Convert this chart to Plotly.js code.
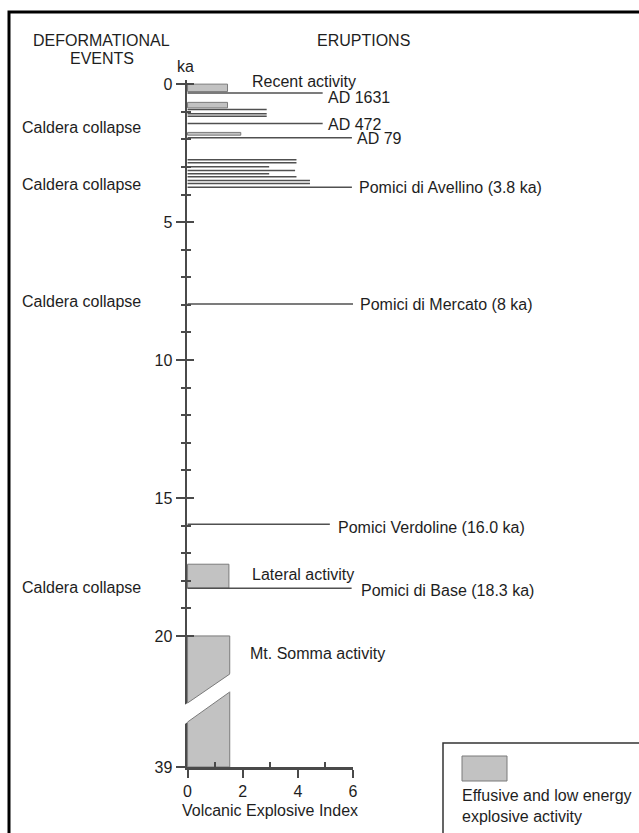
<!DOCTYPE html>
<html>
<head>
<meta charset="utf-8">
<script src="https://cdn.plot.ly/plotly-3.0.1.min.js"></script>
<style>
  html, body { margin: 0; padding: 0; background: #ffffff; }
  #chart { width: 639px; height: 833px; }
</style>
</head>
<body>
<div id="chart"></div>
<script>
// ---------------- DATA ----------------
// Effusive and low energy explosive activity (grey boxes): age span in ka and extent on VEI axis
const effusiveStart = [0, 0.66, 1.75, 17.4, 20];
const effusiveEnd   = [0.27, 0.86, 1.85, 18.27, 39];
const effusiveVEI   = [1.45, 1.45, 1.93, 1.5, 1.53];

// Explosive eruptions (horizontal lines): age in ka and extent along the VEI axis
const eruptionAge   = [0.32, 0.92, 1.07, 1.16, 1.43, 1.94,
                       2.74, 2.85, 2.99, 3.13, 3.25, 3.36, 3.49, 3.60, 3.74,
                       7.97, 15.95, 18.27];
const eruptionReach = [4.9, 2.87, 2.87, 2.87, 4.9, 5.96,
                       3.95, 3.95, 2.96, 3.9, 2.96, 3.95, 4.44, 4.44, 5.96,
                       6.05, 5.16, 5.95];

// Text
const eruptionLabels = ['Recent activity', 'AD 1631', 'AD 472', 'AD 79',
  'Pomici di Avellino (3.8 ka)', 'Pomici di Mercato (8 ka)',
  'Pomici Verdoline (16.0 ka)', 'Lateral activity',
  'Pomici di Base (18.3 ka)', 'Mt. Somma activity'];
const deformationLabels = ['Caldera collapse', 'Caldera collapse', 'Caldera collapse', 'Caldera collapse'];
const yTickKa   = [0, 5, 10, 15, 20, 39];
const yMinorKa  = [1, 2, 3, 4, 6, 7, 8, 9, 11, 12, 13, 14, 16, 17, 18, 19];
const xTickVals = [0, 2, 4, 6];
const xMinorVals = [1, 3, 5];
const xTitle = 'Volcanic Explosive Index';
const legendText = 'Effusive and low energy<br>explosive activity';

// ---------------- SCALE (broken age axis: 20–39 ka compressed) ----------------
const BREAK_AT = 20, COMPRESS = 0.25;
function toU(ka) { return ka <= BREAK_AT ? ka : BREAK_AT + (ka - BREAK_AT) * COMPRESS; }

// ---------------- GEOMETRY / STYLE ----------------
const W = 639, H = 833;
const M = { l: 187, r: 286, t: 80, b: 66 };
const PW = W - M.l - M.r, PH = H - M.t - M.b;
const xr = [-0.02, 6.0];
const yr = [toU(39), -0.15];
const FONT = 'Liberation Sans, Arial, Helvetica, sans-serif';
const TXT = '#1e1e1e';
const AX = '#4a4a4a';
const GREY = '#c2c2c2';
const OUTL = '#7a7a7a';
const LINE = '#505050';

function pxX(p) { return (p - M.l) / PW; }
function pxY(p) { return 1 - (p - M.t) / PH; }
function dX(v) { return (v - xr[0]) / (xr[1] - xr[0]); }
function dY(u) { return (u - yr[0]) / (yr[1] - yr[0]); }

// ---------------- TRACES ----------------
const barTrace = {
  type: 'bar', orientation: 'h',
  x: effusiveVEI,
  base: effusiveVEI.map(() => 0),
  y: effusiveStart.map((s, i) => (toU(s) + toU(effusiveEnd[i])) / 2),
  width: effusiveStart.map((s, i) => toU(effusiveEnd[i]) - toU(s)),
  marker: { color: GREY, line: { color: OUTL, width: 1 } },
  hoverinfo: 'skip', showlegend: false
};

const lx = [], ly = [];
eruptionAge.forEach((a, i) => { lx.push(0, eruptionReach[i], null); ly.push(toU(a), toU(a), null); });
const lineTrace = {
  type: 'scatter', mode: 'lines', x: lx, y: ly,
  line: { color: LINE, width: 1.5 },
  hoverinfo: 'skip', showlegend: false
};

// dummy trace so the overlaying y axis (inner tick halves) is drawn
const dummy = { type: 'scatter', x: [null], y: [null], yaxis: 'y2', hoverinfo: 'skip', showlegend: false };

// ---------------- ANNOTATIONS ----------------
const ann = [];
function addText(text, px, py, anchor) {
  ann.push({ text: text, xref: 'paper', yref: 'paper', x: pxX(px), y: pxY(py),
    xanchor: anchor || 'left', yanchor: 'middle', showarrow: false,
    font: { family: FONT, size: 16, color: TXT } });
}
addText('DEFORMATIONAL', 101, 41, 'center');
addText('EVENTS', 102, 58, 'center');
addText('ERUPTIONS', 363, 41, 'center');
addText('ka', 185, 67, 'center');

const eruptionLabelPos = [[250, 81], [326, 98], [326, 124], [355, 138], [357, 187],
  [358, 304], [336, 527], [250, 574], [359, 590], [248, 653]];
eruptionLabels.forEach((t, i) => addText(t, eruptionLabelPos[i][0], eruptionLabelPos[i][1]));
const deformationPosY = [128, 184, 301, 587];
deformationLabels.forEach((t, i) => addText(t, 20, deformationPosY[i]));
addText(legendText, 460, 806);
ann[ann.length - 1].align = 'left';

// ---------------- SHAPES ----------------
const shapes = [];
// axis break: white band with cut edges
const up0 = 22.43, upS = -0.686, lo0 = 23.12, loS = -0.712;
const bx0 = -0.4, bx1 = 1.8;
function P(xv, u) { return dX(xv).toFixed(5) + ',' + dY(u).toFixed(5); }
shapes.push({ type: 'path', xref: 'paper', yref: 'paper', layer: 'above',
  path: 'M' + P(bx0, up0 + upS * bx0) + 'L' + P(bx1, up0 + upS * bx1) +
        'L' + P(bx1, lo0 + loS * bx1) + 'L' + P(bx0, lo0 + loS * bx0) + 'Z',
  fillcolor: '#ffffff', line: { width: 0 } });
const somma = effusiveVEI[effusiveVEI.length - 1];
shapes.push({ type: 'line', xref: 'paper', yref: 'paper', layer: 'above',
  x0: dX(0), y0: dY(up0), x1: dX(somma), y1: dY(up0 + upS * somma), line: { color: OUTL, width: 1 } });
shapes.push({ type: 'line', xref: 'paper', yref: 'paper', layer: 'above',
  x0: dX(0), y0: dY(lo0), x1: dX(somma), y1: dY(lo0 + loS * somma), line: { color: OUTL, width: 1 } });
// outer frame
shapes.push({ type: 'rect', xref: 'paper', yref: 'paper', layer: 'above',
  x0: pxX(9), x1: pxX(700), y0: pxY(12), y1: pxY(900),
  line: { color: '#000000', width: 3 }, fillcolor: 'rgba(0,0,0,0)' });
// legend box and swatch
shapes.push({ type: 'rect', xref: 'paper', yref: 'paper', layer: 'above',
  x0: pxX(443), x1: pxX(700), y0: pxY(743), y1: pxY(900),
  line: { color: '#333333', width: 1.5 }, fillcolor: 'rgba(0,0,0,0)' });
shapes.push({ type: 'rect', xref: 'paper', yref: 'paper', layer: 'above',
  x0: pxX(462), x1: pxX(507), y0: pxY(756), y1: pxY(781),
  line: { color: OUTL, width: 1 }, fillcolor: GREY });

// ---------------- LAYOUT ----------------
const layout = {
  width: W, height: H,
  margin: M,
  paper_bgcolor: '#ffffff', plot_bgcolor: '#ffffff',
  showlegend: false,
  font: { family: FONT, size: 16, color: TXT },
  xaxis: {
    range: xr, showgrid: false, zeroline: false,
    showline: true, linecolor: AX, linewidth: 2.5,
    tickmode: 'array', tickvals: xTickVals, ticktext: xTickVals.map(String),
    ticks: 'outside', ticklen: 8, tickwidth: 2, tickcolor: AX,
    minor: { tickmode: 'array', tickvals: xMinorVals, ticks: 'inside', ticklen: 5, tickwidth: 2, tickcolor: AX, showgrid: false },
    tickfont: { family: FONT, size: 16, color: TXT },
    title: { text: xTitle, font: { family: FONT, size: 16, color: TXT }, standoff: 6 },
    fixedrange: true
  },
  yaxis: {
    range: yr, showgrid: false, zeroline: false,
    showline: true, linecolor: AX, linewidth: 2.5,
    tickmode: 'array', tickvals: yTickKa.map(toU), ticktext: yTickKa.map(String),
    ticks: 'outside', ticklen: 9, tickwidth: 2, tickcolor: AX,
    minor: { tickmode: 'array', tickvals: yMinorKa.map(toU), ticks: 'outside', ticklen: 4, tickwidth: 2, tickcolor: AX, showgrid: false },
    tickfont: { family: FONT, size: 16, color: TXT },
    fixedrange: true
  },
  yaxis2: {
    overlaying: 'y', side: 'left', anchor: 'x',
    range: yr, showgrid: false, zeroline: false, showline: false,
    showticklabels: false,
    tickmode: 'array', tickvals: yTickKa.map(toU).slice(0, 5),
    ticks: 'inside', ticklen: 7, tickwidth: 2, tickcolor: AX,
    minor: { tickmode: 'array', tickvals: yMinorKa.map(toU), ticks: 'inside', ticklen: 4, tickwidth: 2, tickcolor: AX, showgrid: false },
    fixedrange: true
  },
  annotations: ann,
  shapes: shapes
};

Plotly.newPlot('chart', [barTrace, lineTrace, dummy], layout, { staticPlot: true, displayModeBar: false });
</script>
</body>
</html>
